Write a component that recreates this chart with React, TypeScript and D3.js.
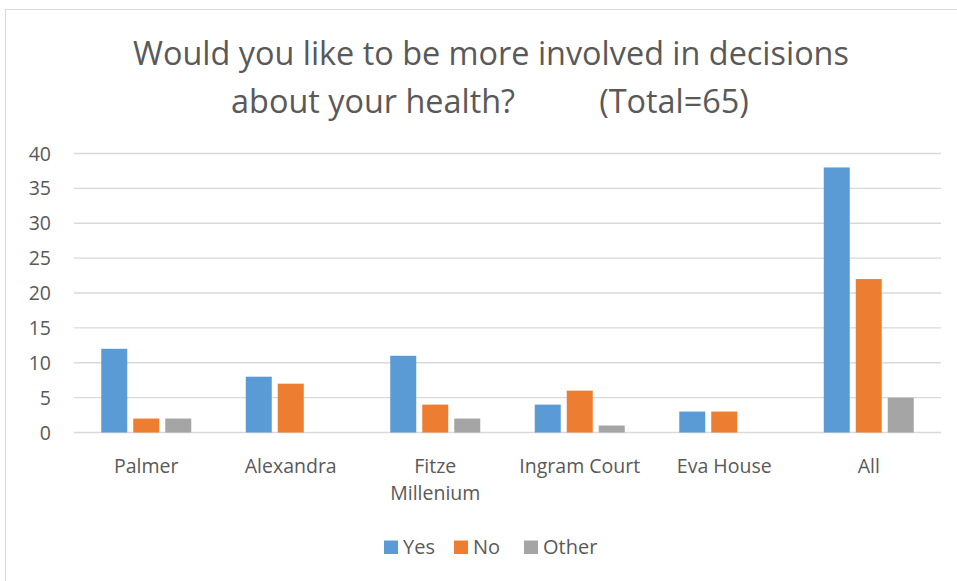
import React from "react";
import * as d3 from "d3";

const categories = ["Palmer", "Alexandra", "Fitze Millenium", "Ingram Court", "Eva House", "All"];
const categoryLines = [["Palmer"], ["Alexandra"], ["Fitze", "Millenium"], ["Ingram Court"], ["Eva House"], ["All"]];
const seriesNames = ["Yes", "No", "Other"];
const yesValues = [12, 8, 11, 4, 3, 38];
const noValues = [2, 7, 4, 6, 3, 22];
const otherValues = [2, 0, 2, 1, 0, 5];
const colors = ["#5B9BD5", "#ED7D31", "#A5A5A5"];
const yTicks = [0, 5, 10, 15, 20, 25, 30, 35, 40];

const W = 957, H = 581;
const left = 74, right = 941, top = 153.5, bottom = 432.5;
const FONT = "'Open Sans', sans-serif";

export default function App() {
  const series = [yesValues, noValues, otherValues];
  const x = d3.scaleBand<string>().domain(categories).range([left, right]).padding(0);
  const y = d3.scaleLinear().domain([0, 40]).range([bottom, top]);
  const barW = 26;
  const step = 32;
  return (
    <svg width={W} height={H} style={{ position: "absolute", left: 0, top: 0, background: "#fff" }}>
      <rect x={5.5} y={9.5} width={W + 10} height={H + 10} fill="#fff" stroke="#D9D9D9" strokeWidth={1} />
      <text x={491} y={65} textAnchor="middle" fontFamily={FONT} fontSize={32.4} fill="#595959">
        Would you like to be more involved in decisions
      </text>
      <text x={490} y={113} textAnchor="middle" fontFamily={FONT} fontSize={32.4} fill="#595959" xmlSpace="preserve">
        {"about your health?          (Total=65)"}
      </text>
      {yTicks.map((t) => (
        <g key={t}>
          <line x1={left} x2={right} y1={y(t)} y2={y(t)} stroke="#D9D9D9" strokeWidth={1.3} />
          <text x={51} y={y(t) + 7} textAnchor="end" fontFamily={FONT} fontSize={19.5} fill="#595959">{t}</text>
        </g>
      ))}
      {categories.map((c, i) => {
        const cx = (x(c) as number) + x.bandwidth() / 2;
        return (
          <g key={c}>
            {series.map((vals, s) => (
              <rect key={s} x={cx + (s - 1) * step - barW / 2} y={y(vals[i])} width={barW}
                height={bottom - y(vals[i])} fill={colors[s]} />
            ))}
            {categoryLines[i].map((ln, k) => (
              <text key={k} x={cx} y={473 + k * 27} textAnchor="middle" fontFamily={FONT} fontSize={19.5} fill="#595959">{ln}</text>
            ))}
          </g>
        );
      })}
      {seriesNames.map((n, s) => {
        const lx = [384, 454, 524][s];
        return (
          <g key={n}>
            <rect x={lx} y={540.5} width={14} height={13.5} fill={colors[s]} />
            <text x={lx + 19} y={554} fontFamily={FONT} fontSize={20} fill="#595959">{n}</text>
          </g>
        );
      })}
    </svg>
  );
}
